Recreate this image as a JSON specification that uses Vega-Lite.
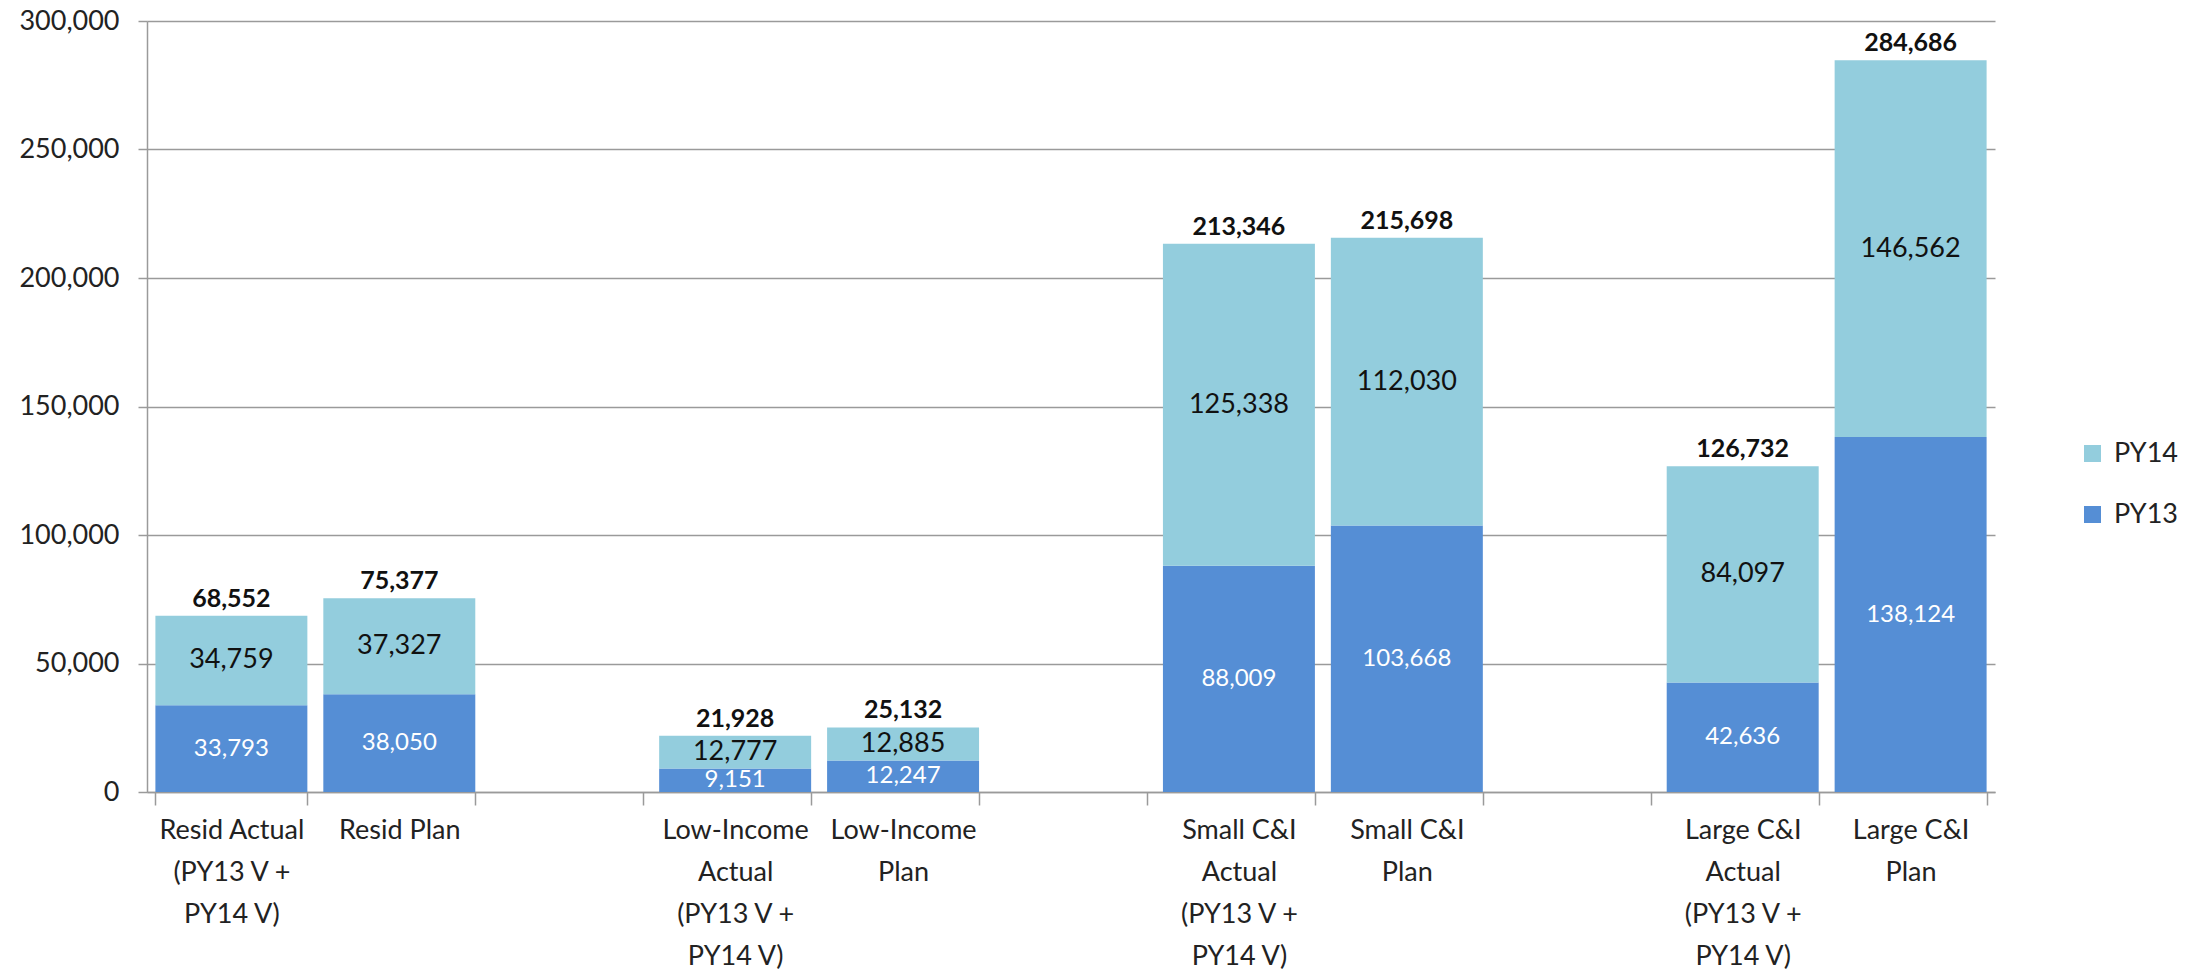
{
  "$schema": "https://vega.github.io/schema/vega-lite/v6.json",
  "width": 1848,
  "height": 771,
  "autosize": {"type": "none"},
  "padding": {"left": 147, "top": 21, "right": 195, "bottom": 183},
  "background": "white",
  "config": {
    "font": "Lato",
    "view": {"stroke": null},
    "axis": {
      "labelFont": "Lato",
      "labelColor": "#222222",
      "labelFontSize": 27,
      "domainColor": "#9a9a9a",
      "domainWidth": 1.5,
      "tickColor": "#9a9a9a",
      "tickWidth": 1.5,
      "gridColor": "#9a9a9a",
      "gridWidth": 1.5
    }
  },
  "datasets": {
    "bars": [
      {"category": "Resid Actual|(PY13 V +|PY14 V)", "series": "PY13", "value": 33793},
      {"category": "Resid Actual|(PY13 V +|PY14 V)", "series": "PY14", "value": 34759},
      {"category": "Resid Plan", "series": "PY13", "value": 38050},
      {"category": "Resid Plan", "series": "PY14", "value": 37327},
      {"category": "Low-Income|Actual|(PY13 V +|PY14 V)", "series": "PY13", "value": 9151},
      {"category": "Low-Income|Actual|(PY13 V +|PY14 V)", "series": "PY14", "value": 12777},
      {"category": "Low-Income|Plan", "series": "PY13", "value": 12247},
      {"category": "Low-Income|Plan", "series": "PY14", "value": 12885},
      {"category": "Small C&I|Actual|(PY13 V +|PY14 V)", "series": "PY13", "value": 88009},
      {"category": "Small C&I|Actual|(PY13 V +|PY14 V)", "series": "PY14", "value": 125338},
      {"category": "Small C&I|Plan", "series": "PY13", "value": 103668},
      {"category": "Small C&I|Plan", "series": "PY14", "value": 112030},
      {"category": "Large C&I|Actual|(PY13 V +|PY14 V)", "series": "PY13", "value": 42636},
      {"category": "Large C&I|Actual|(PY13 V +|PY14 V)", "series": "PY14", "value": 84097},
      {"category": "Large C&I|Plan", "series": "PY13", "value": 138124},
      {"category": "Large C&I|Plan", "series": "PY14", "value": 146562}
    ],
    "totals": [
      {"category": "Resid Actual|(PY13 V +|PY14 V)", "total": 68552},
      {"category": "Resid Plan", "total": 75377},
      {"category": "Low-Income|Actual|(PY13 V +|PY14 V)", "total": 21928},
      {"category": "Low-Income|Plan", "total": 25132},
      {"category": "Small C&I|Actual|(PY13 V +|PY14 V)", "total": 213346},
      {"category": "Small C&I|Plan", "total": 215698},
      {"category": "Large C&I|Actual|(PY13 V +|PY14 V)", "total": 126732},
      {"category": "Large C&I|Plan", "total": 284686}
    ]
  },
  "layer": [
    {
      "data": {"name": "bars"},
      "mark": {"type": "bar"},
      "encoding": {
        "x": {
          "field": "category",
          "type": "nominal",
          "sort": null,
          "title": null,
          "scale": {
            "domain": [
              "Resid Actual|(PY13 V +|PY14 V)", "Resid Plan", "gap1",
              "Low-Income|Actual|(PY13 V +|PY14 V)", "Low-Income|Plan", "gap2",
              "Small C&I|Actual|(PY13 V +|PY14 V)", "Small C&I|Plan", "gap3",
              "Large C&I|Actual|(PY13 V +|PY14 V)", "Large C&I|Plan"
            ],
            "paddingInner": 0.095,
            "paddingOuter": 0.05
          },
          "axis": {
            "labelAngle": 0,
            "tickBand": "extent",
            "tickSize": 13,
            "labelPadding": 12,
            "labelBaseline": "top",
            "labelLineHeight": 42,
            "labelLimit": 0,
            "labelExpr": "indexof('' + datum.label, 'gap') == 0 ? '' : split('' + datum.label, '|')",
            "grid": false
          }
        },
        "y": {
          "field": "value",
          "type": "quantitative",
          "stack": "zero",
          "title": null,
          "scale": {"domain": [0, 300000], "nice": false},
          "axis": {
            "values": [0, 50000, 100000, 150000, 200000, 250000, 300000],
            "format": ",.0f",
            "grid": true,
            "tickSize": 9,
            "labelPadding": 19
          }
        },
        "color": {
          "field": "series",
          "type": "nominal",
          "scale": {"domain": ["PY14", "PY13"], "range": ["#93CDDD", "#558ED5"]},
          "legend": {
            "orient": "none",
            "legendX": 1932,
            "legendY": 419,
            "title": null,
            "symbolType": "square",
            "symbolSize": 289,
            "symbolStrokeWidth": 0,
            "labelFont": "Lato",
            "labelFontSize": 27,
            "labelColor": "#222222",
            "labelOffset": 8,
            "rowPadding": 33
          }
        },
        "order": {"field": "series", "sort": "ascending"}
      }
    },
    {
      "data": {"name": "bars"},
      "mark": {"type": "text", "font": "Lato", "baseline": "middle", "align": "center"},
      "encoding": {
        "x": {"field": "category", "type": "nominal", "sort": null, "title": null},
        "y": {
          "field": "value",
          "type": "quantitative",
          "stack": "zero",
          "bandPosition": 0.5,
          "title": null,
          "axis": {
            "values": [0, 50000, 100000, 150000, 200000, 250000, 300000],
            "format": ",.0f",
            "grid": true,
            "tickSize": 9,
            "labelPadding": 19
          }
        },
        "detail": {"field": "series"},
        "order": {"field": "series", "sort": "ascending"},
        "text": {"field": "value", "type": "quantitative", "format": ","},
        "color": {"condition": {"test": "datum.series == 'PY13'", "value": "#ffffff"}, "value": "#111111"},
        "size": {"condition": {"test": "datum.series == 'PY13'", "value": 24}, "value": 27}
      }
    },
    {
      "data": {"name": "totals"},
      "mark": {"type": "text", "font": "Lato", "fontWeight": "bold", "fontSize": 25, "baseline": "alphabetic", "align": "center", "dy": -9, "color": "#111111"},
      "encoding": {
        "x": {"field": "category", "type": "nominal", "sort": null, "title": null},
        "y": {
          "field": "total",
          "type": "quantitative",
          "title": null,
          "axis": {
            "values": [0, 50000, 100000, 150000, 200000, 250000, 300000],
            "format": ",.0f",
            "grid": true,
            "tickSize": 9,
            "labelPadding": 19
          }
        },
        "text": {"field": "total", "type": "quantitative", "format": ","}
      }
    }
  ]
}
